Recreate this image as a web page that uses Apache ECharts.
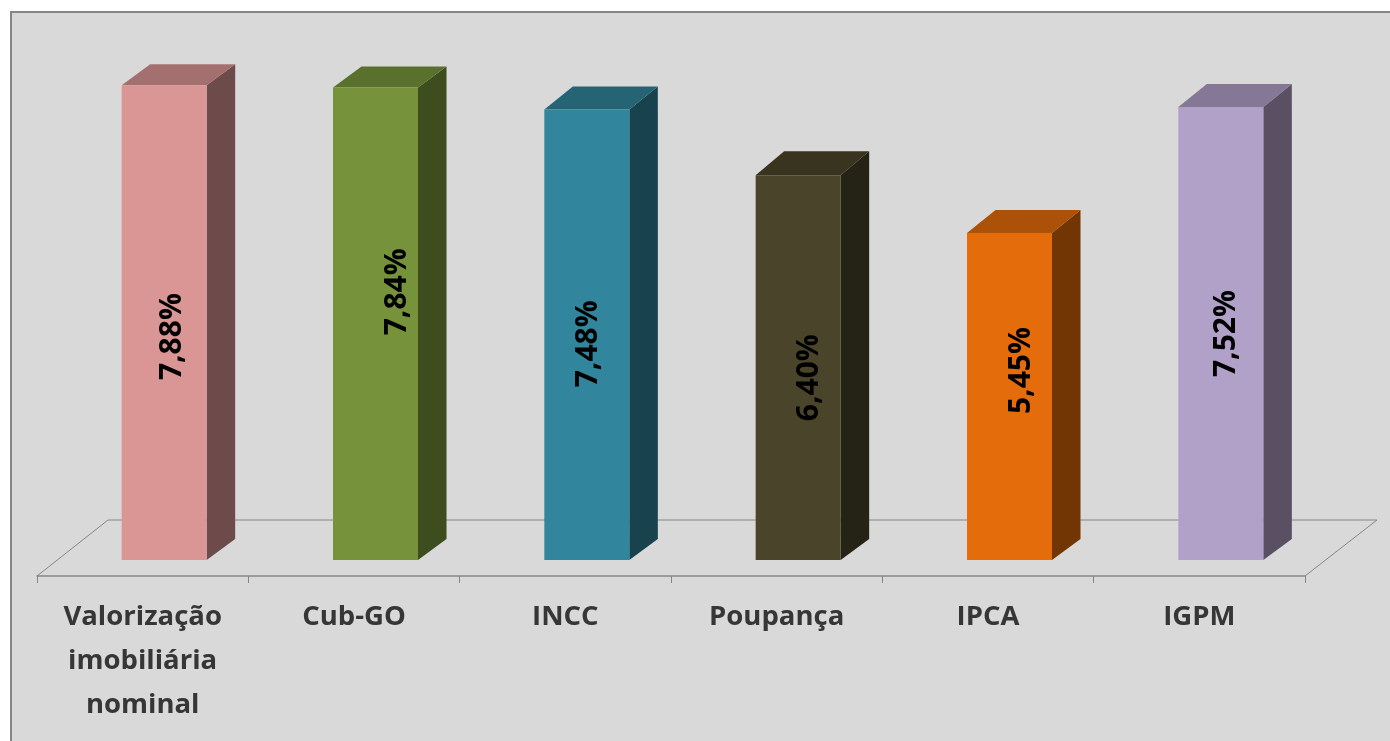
<!DOCTYPE html>
<html>
<head>
<meta charset="utf-8">
<style>html,body{margin:0;padding:0;background:#fff;overflow:hidden}#c{width:1390px;height:741px}</style>
<script src="https://cdn.jsdelivr.net/npm/echarts@6/dist/echarts.min.js"></script>
</head>
<body>
<div id="c"></div>
<script>
const categories = ['Valorização\nimobiliária\nnominal', 'Cub-GO', 'INCC', 'Poupança', 'IPCA', 'IGPM'];
const values = [7.88, 7.84, 7.48, 6.40, 5.45, 7.52];
const valueLabels = ['7,88%', '7,84%', '7,48%', '6,40%', '5,45%', '7,52%'];
const frontColors = ['#DA9694', '#76933C', '#31859C', '#4A452A', '#E46C0A', '#B1A0C7'];
const topColors = ['#A4706F', '#5A702D', '#256475', '#38341F', '#AB5108', '#857896'];
const sideColors = ['#6D4B4A', '#3D4D1E', '#18434E', '#252315', '#723605', '#595064'];
const labelNudges = [[8, 14], [22, -32], [2, 9], [11, 10], [12, -26], [6, 0]];
const topDepths = [21, 21, 23, 24, 23, 23];

const BAR_W = 85, DEPTH_X = 28.5, DEPTH_Y = 21, SHIFT_X = 21.5;

function renderBar(params, api) {
  const i = api.value(0);
  const top = api.coord([i, api.value(1)]);
  const base = api.coord([i, 0.08]);
  const l = top[0] + SHIFT_X - BAR_W / 2, r = l + BAR_W, t = top[1], b = base[1];
  const cx = (l + r) / 2, cy = (t + b) / 2, td = topDepths[i];
  return {
    type: 'group',
    children: [
      { type: 'polygon', shape: { points: [[r, t], [r + DEPTH_X, t - td], [r + DEPTH_X, b - DEPTH_Y], [r, b]] }, style: { fill: sideColors[i] } },
      { type: 'polygon', shape: { points: [[l, t], [l + DEPTH_X, t - td], [r + DEPTH_X, t - td], [r, t]] }, style: { fill: topColors[i] } },
      { type: 'rect', shape: { x: l, y: t, width: BAR_W, height: b - t }, style: { fill: frontColors[i] } },
      { type: 'text', x: cx + labelNudges[i][0], y: cy + labelNudges[i][1], rotation: Math.PI / 2,
        style: { text: valueLabels[i], fill: '#000', font: 'bold 30px "Open Sans"', align: 'center', verticalAlign: 'middle' } }
    ]
  };
}

const chart = echarts.init(document.getElementById('c'), null, { renderer: 'canvas' });
chart.setOption({
  animation: false,
  backgroundColor: '#fff',
  graphic: [
    { type: 'rect', z: 0, shape: { x: 11, y: 12, width: 1400, height: 760 }, style: { fill: '#D9D9D9', stroke: '#868686', lineWidth: 2 } },
    { type: 'polyline', z: 1, shape: { points: [[37, 576], [108, 520], [1377, 520], [1305, 576]] }, style: { fill: null, stroke: '#868686', lineWidth: 1 } }
  ],
  grid: { left: 37, top: 73, width: 1268, height: 487 },
  xAxis: {
    type: 'category', data: categories, offset: 16, boundaryGap: true,
    axisLine: { lineStyle: { color: '#868686', width: 1.5 } },
    axisTick: { show: true, length: 7, lineStyle: { color: '#868686', width: 1 } },
    axisLabel: { interval: 0, margin: 19, color: '#363636', fontFamily: 'Open Sans', fontWeight: 'bold', fontSize: 27.5, lineHeight: 44 }
  },
  yAxis: { type: 'value', min: 0.08, max: 8.08, show: false },
  series: [{
    type: 'custom',
    renderItem: renderBar,
    data: values.map((v, i) => [i, v]),
    encode: { x: 0, y: 1 }
  }]
});
</script>
</body>
</html>
